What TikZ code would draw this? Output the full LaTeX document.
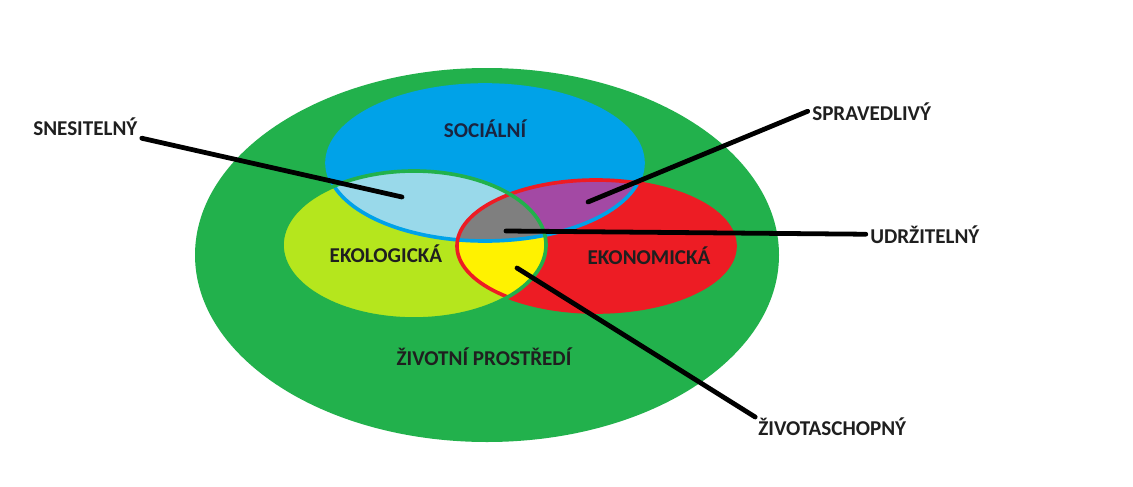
\documentclass[tikz,border=0pt]{standalone}
\usepackage{fontspec}
\setmainfont{Carlito}
\usetikzlibrary{positioning}

\definecolor{envgreen}{HTML}{22B14C}
\definecolor{socblue}{HTML}{00A2E8}
\definecolor{ecolime}{HTML}{B5E61D}
\definecolor{ecored}{HTML}{ED1C24}
\definecolor{lightblue}{HTML}{99D9EA}
\definecolor{paintpurple}{HTML}{A349A4}
\definecolor{paintgray}{HTML}{7F7F7F}
\definecolor{paintyellow}{HTML}{FFF200}
\definecolor{navytext}{HTML}{1A2440}

\tikzset{
  lbl/.style={inner sep=0pt, text=black!88, font=\fontsize{15}{18}\selectfont\bfseries},
  pointer/.style={line width=3.4pt, line cap=round, black},
}

\begin{document}
\begin{tikzpicture}[x=0.025cm, y=-0.025cm]
\fill[white] (0,0) rectangle (1133,487);
\useasboundingbox (0,0) rectangle (1133,487);

% environment
\fill[envgreen] (487,255) ellipse (292 and 187);

% the three circles
\fill[socblue] (485,163) ellipse (158 and 78);
\fill[ecolime] (414,245) ellipse (132 and 74);
\fill[ecored] (596,246) ellipse (139 and 66);

% overlaps
\begin{scope}
\clip (485,163) ellipse (158 and 78);
\fill[lightblue] (414,245) ellipse (132 and 74);
\fill[paintpurple] (596,246) ellipse (139 and 66);
\end{scope}
\begin{scope}
\clip (414,245) ellipse (132 and 74);
\fill[paintyellow] (596,246) ellipse (139 and 66);
\clip (485,163) ellipse (158 and 78);
\fill[paintgray] (596,246) ellipse (139 and 66);
\end{scope}

% outlines
\draw[socblue, line width=2.6pt] (485,163) ellipse (158 and 78);
\draw[ecored, line width=2.6pt] (596,246) ellipse (139 and 66);
\draw[envgreen, line width=2.6pt] (414,245) ellipse (132 and 74);

% labels inside
\node[lbl, text=navytext] (soc) at (485,129) {SOCIÁLNÍ};
\node[lbl] (eko) at (386,254) {EKOLOGICKÁ};
\node[lbl] (ekon) at (649,256) {EKONOMICKÁ};
\node[lbl] (env) at (484,357) {ŽIVOTNÍ PROSTŘEDÍ};

% points in the overlaps
\coordinate (pLight) at (402,197);
\coordinate (pPurple) at (588,202);
\coordinate (pGray) at (506,231);
\coordinate (pYellow) at (517,268);

% outside labels
\node[lbl, anchor=base west] (snes) at (33,135) {SNESITELNÝ};
\node[lbl, anchor=base west] (sprav) at (812,120) {SPRAVEDLIVÝ};
\node[lbl, anchor=base west] (udrz) at (870,243) {UDRŽITELNÝ};
\node[lbl, anchor=base west] (ziv) at (758,435) {ŽIVOTASCHOPNÝ};

\draw[pointer] ([xshift=3pt,yshift=-2pt]snes.south east) -- (pLight);
\draw[pointer] ([xshift=-3pt]sprav.west) -- (pPurple);
\draw[pointer] ([xshift=-3pt]udrz.west) -- (pGray);
\draw[pointer] ([xshift=-2pt]ziv.north west) -- (pYellow);

\end{tikzpicture}
\end{document}
